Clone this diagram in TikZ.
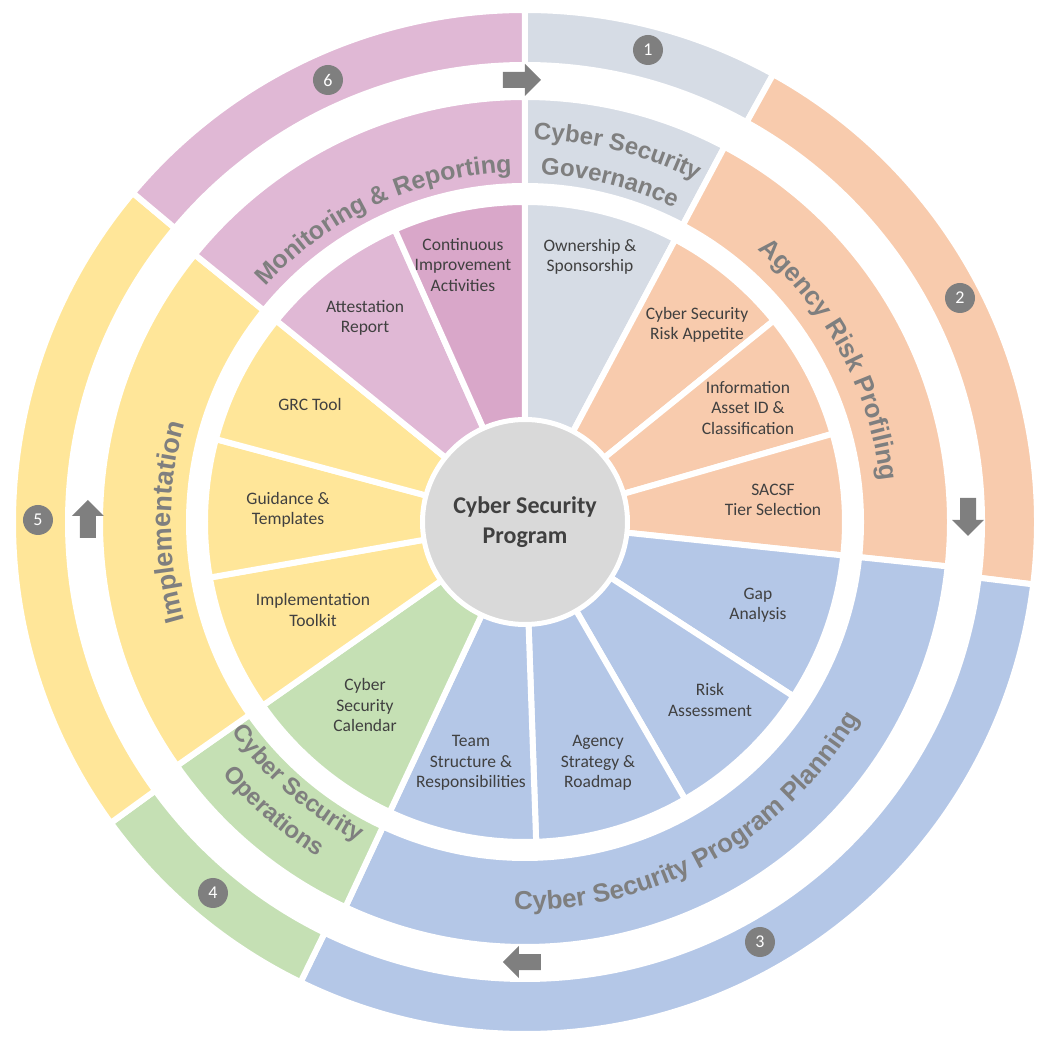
\documentclass[tikz,border=0pt]{standalone}
\usepackage{fontspec}
\setmainfont{Carlito}
\newfontfamily\ringfont{Liberation Sans}
\usetikzlibrary{decorations.text}
\definecolor{cgov}{HTML}{D6DCE5}
\definecolor{carp}{HTML}{F8CBAD}
\definecolor{cpln}{HTML}{B4C7E7}
\definecolor{cops}{HTML}{C5E0B4}
\definecolor{cimp}{HTML}{FFE699}
\definecolor{cmon}{HTML}{E0B8D5}
\definecolor{cmon2}{HTML}{D9A7C9}
\definecolor{ringtxt}{HTML}{7F7F7F}
\definecolor{intxt}{HTML}{404040}
\definecolor{numc}{HTML}{7F7F7F}
\newcommand\myseg[5]{\fill[#5,draw=white,line width=6pt] (#1:#3) arc[start angle=#1,end angle=#2,radius=#3] -- (#2:#4) arc[start angle=#2,end angle=#1,radius=#4] -- cycle;}
\newcommand\ringlabel[5]{\path[decorate,decoration={text along path,text align=center,text={|\ringfont\fontsize{#5}{#5}\selectfont\bfseries\color{ringtxt}|#4}}] (#1:#3) arc[start angle=#1,end angle=#2,radius=#3];}
\tikzset{
 intext/.style={text=intxt,font=\fontsize{17.5}{20.5}\selectfont,align=center},
 numb/.style={circle,fill=numc,text=white,minimum size=30pt,inner sep=0pt,font=\fontsize{18}{18}\selectfont},
 blockarrow/.style={fill=numc}
}
\begin{document}
\begin{tikzpicture}
\useasboundingbox (-525pt,-521pt) rectangle (525pt,522pt);
% outer ring
\myseg{90}{61}{457pt}{512pt}{cgov}
\myseg{61}{-7}{457pt}{512pt}{carp}
\myseg{-7}{-116}{457pt}{512pt}{cpln}
\myseg{-116}{-144}{457pt}{512pt}{cops}
\myseg{-144}{-220}{457pt}{512pt}{cimp}
\myseg{140}{90}{457pt}{512pt}{cmon}
% middle ring
\myseg{90}{62}{336pt}{425pt}{cgov}
\myseg{62}{-6}{336pt}{425pt}{carp}
\myseg{-6}{-115}{336pt}{425pt}{cpln}
\myseg{-115}{-145}{336pt}{425pt}{cops}
\myseg{-145}{-219}{336pt}{425pt}{cimp}
\myseg{141}{90}{336pt}{425pt}{cmon}
% inner ring
\myseg{90}{62}{1pt}{320pt}{cgov}
\myseg{62}{39}{1pt}{320pt}{carp}
\myseg{39}{16}{1pt}{320pt}{carp}
\myseg{16}{-6}{1pt}{320pt}{carp}
\myseg{-6}{-33}{1pt}{320pt}{cpln}
\myseg{-33}{-60}{1pt}{320pt}{cpln}
\myseg{-60}{-88}{1pt}{320pt}{cpln}
\myseg{-88}{-115}{1pt}{320pt}{cpln}
\myseg{-115}{-145}{1pt}{320pt}{cops}
\myseg{-145}{-170}{1pt}{320pt}{cimp}
\myseg{-170}{-195}{1pt}{320pt}{cimp}
\myseg{165}{141}{1pt}{320pt}{cimp}
\myseg{141}{114}{1pt}{320pt}{cmon}
\myseg{114}{90}{1pt}{320pt}{cmon2}
% center
\node[circle,fill=black!15,draw=white,line width=5pt,minimum size=205pt,inner sep=0pt,align=center,text=intxt,font=\fontsize{24}{30}\selectfont\bfseries] (ctr) at (0,0) {Cyber Security\\Program};
% inner texts
\node[intext] (t1) at (65pt,265pt) {Ownership \&\\Sponsorship};
\node[intext] (t2) at (172pt,197pt) {Cyber Security\\Risk Appetite};
\node[intext] (t3) at (223pt,114pt) {Information\\Asset ID \&\\Classification};
\node[intext] (t4) at (248pt,22pt) {SACSF\\Tier Selection};
\node[intext] (t5) at (233pt,-83pt) {Gap\\Analysis};
\node[intext] (t6) at (185pt,-178pt) {Risk\\Assessment};
\node[intext] (t7) at (73pt,-241pt) {Agency\\Strategy \&\\Roadmap};
\node[intext] (t8) at (-54pt,-241pt) {Team\\Structure \&\\Responsibilities};
\node[intext] (t9) at (-160pt,-183pt) {Cyber\\Security\\Calendar};
\node[intext] (t10) at (-212pt,-88pt) {Implementation\\Toolkit};
\node[intext] (t11) at (-237pt,12pt) {Guidance \&\\Templates};
\node[intext] (t12) at (-215pt,118pt) {GRC Tool};
\node[intext] (t13) at (-160pt,204pt) {Attestation\\Report};
\node[intext] (t14) at (-62pt,257pt) {Continuous\\Improvement\\Activities};
% ring labels
\ringlabel{104}{48}{382pt}{Cyber Security}{24}
\ringlabel{104}{48}{348pt}{Governance}{24}
\ringlabel{62}{-6}{358pt}{Agency Risk Profiling}{26}
\ringlabel{-112}{-10}{388pt}{Cyber Security Program Planning}{26}
\ringlabel{-150}{-112}{361pt}{Cyber Security}{24}
\ringlabel{-150}{-112}{394pt}{Operations}{24}
\ringlabel{215}{145}{354pt}{Implementation}{27}
\ringlabel{150}{80}{350pt}{Monitoring {\&} Reporting}{25}
% numbers
\node[numb] (n1) at (123pt,472pt) {1};
\node[numb] (n2) at (435pt,224pt) {2};
\node[numb] (n3) at (235pt,-420pt) {3};
\node[numb] (n4) at (-312pt,-371pt) {4};
\node[numb] (n5) at (-487pt,2pt) {5};
\node[numb] (n6) at (-197pt,442pt) {6};
% block arrows
\fill[blockarrow] (-22pt,434pt) -- (0pt,434pt) -- (0pt,426pt) -- (16pt,442pt) -- (0pt,458pt) -- (0pt,450pt) -- (-22pt,450pt) -- cycle;
\fill[blockarrow] (435pt,24pt) -- (435pt,2pt) -- (427pt,2pt) -- (443pt,-14pt) -- (459pt,2pt) -- (451pt,2pt) -- (451pt,24pt) -- cycle;
\fill[blockarrow] (16pt,-448pt) -- (-6pt,-448pt) -- (-6pt,-456pt) -- (-22pt,-440pt) -- (-6pt,-424pt) -- (-6pt,-432pt) -- (16pt,-432pt) -- cycle;
\fill[blockarrow] (-445pt,-16pt) -- (-445pt,6pt) -- (-453pt,6pt) -- (-437pt,22pt) -- (-421pt,6pt) -- (-429pt,6pt) -- (-429pt,-16pt) -- cycle;
\end{tikzpicture}
\end{document}
